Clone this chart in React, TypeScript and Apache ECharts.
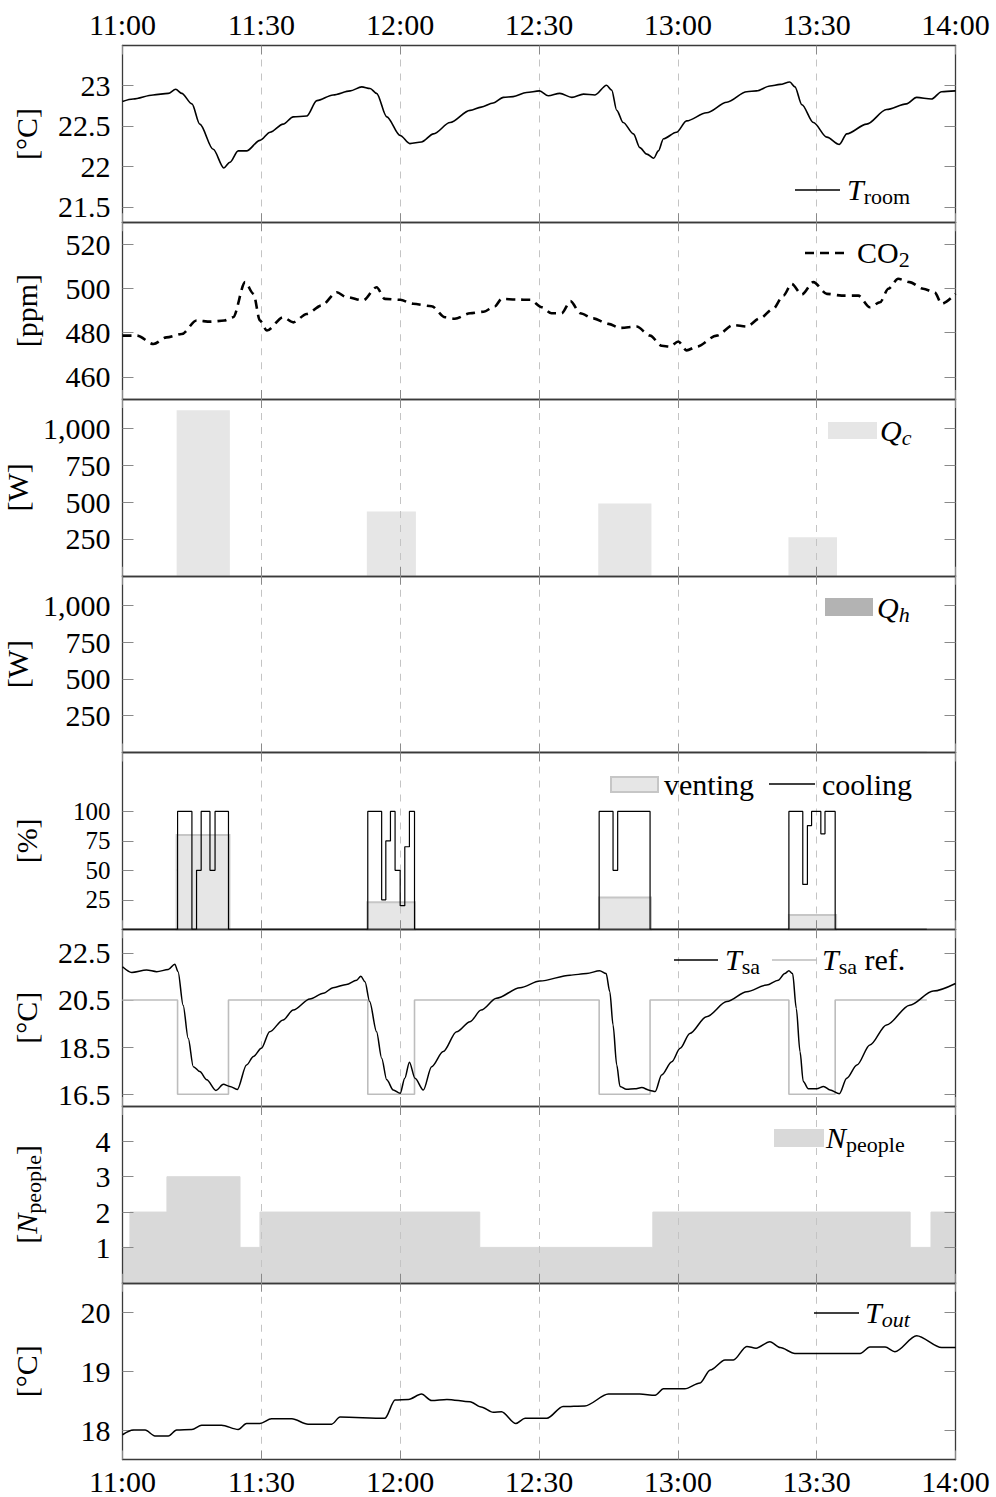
import React, { useEffect, useRef } from "react";
import * as echarts from "echarts";

// Time is measured in minutes after 11:00.
const timeTicks = [0, 30, 60, 90, 120, 150, 180];

// Room temperature [°C]
const tRoom: [number, number][] = [
  [0, 22.8], [2.3, 22.83], [6.6, 22.88], [9.9, 22.9], [11.5, 22.95], [12.8, 22.9], [15, 22.77],
  [16.7, 22.52], [19.6, 22.21], [21.9, 21.98], [23.2, 22.05], [25, 22.19], [26.8, 22.19],
  [29.7, 22.32], [31.9, 22.42], [34.7, 22.52], [36.9, 22.61], [39.8, 22.62], [42, 22.81],
  [45.5, 22.88], [49.2, 22.93], [51.7, 22.98], [53.5, 22.96], [54.9, 22.9], [57.1, 22.61],
  [60, 22.38], [62.1, 22.28], [64.6, 22.3], [67.2, 22.4], [70.8, 22.54], [75.1, 22.69],
  [77.5, 22.73], [80.1, 22.78], [82.3, 22.85], [84.4, 22.86], [87.3, 22.91], [90.1, 22.93],
  [92, 22.87], [94.5, 22.9], [97.1, 22.85], [99.6, 22.89], [102.1, 22.88], [104.6, 23.0],
  [105.7, 22.94], [106.8, 22.69], [108.2, 22.54], [110.4, 22.4], [111.8, 22.23], [113.3, 22.15],
  [114.8, 22.1], [115.8, 22.19], [116.9, 22.34], [119.7, 22.42], [121.9, 22.56], [126.2, 22.66],
  [130.6, 22.79], [134.9, 22.92], [137, 22.93], [139.9, 22.99], [142.1, 23.01], [144.2, 23.04],
  [145.3, 22.98], [146.8, 22.76], [149.3, 22.54], [152.2, 22.36], [154.9, 22.27], [156.5, 22.4],
  [160.8, 22.52], [165.1, 22.7], [169.4, 22.77], [171.6, 22.85], [174.8, 22.83], [177, 22.92],
  [180, 22.93],
];

// CO2 concentration [ppm]
const co2: [number, number][] = [
  [0, 478.7], [3.1, 478.7], [6.7, 474.9], [9.5, 477.9], [12.8, 479.4], [16, 485.5], [19, 485],
  [22, 485.5], [23.9, 487], [26.5, 502.9], [28.3, 497.6], [29.7, 485.5], [31.2, 481], [34.7, 487],
  [36.9, 484.7], [39.8, 488.5], [43, 492.3], [46.3, 498.3], [48.4, 496.1], [52, 494.6],
  [54.9, 500.6], [56.7, 495.3], [60, 494.9], [62.8, 493.1], [66.8, 492], [69.7, 487],
  [71.8, 486.3], [75.1, 488.8], [78, 489.5], [80.5, 492], [81.9, 495.3], [85.2, 495],
  [88.1, 494.9], [90.6, 491.5], [92.7, 488.8], [94.9, 488.8], [96.8, 494.3], [98.9, 488.8],
  [101.7, 486.5], [105, 484], [107.5, 482.2], [111.1, 482.8], [114, 478.7], [116.5, 474.1],
  [118.3, 473.7], [120.1, 476], [121.9, 472], [124.1, 473.7], [128.4, 478.7], [132, 483.5],
  [134.9, 482.8], [137.7, 486.5], [140.6, 490.8], [142.8, 496.8], [144.6, 502.1], [146.8, 497.3],
  [149.3, 502.9], [152.2, 497.6], [155.4, 496.8], [159, 496.8], [161.5, 491.5], [163.7, 493.8],
  [165.5, 499.9], [167.6, 504.4], [170.1, 502.9], [173, 499.9], [175.5, 498.3], [177, 493.1],
  [180, 497.6],
];

// Cooling power blocks: [start, end, W]
const qCooling: [number, number, number][] = [
  [11.7, 23.2, 1124],
  [52.8, 63.4, 436],
  [102.8, 114.3, 490],
  [143.9, 154.4, 261],
];

// Heating power [W] (stays at zero)
const qHeating: [number, number][] = [[0, 0], [173.8, 0]];

// Venting share blocks: [start, end, %]
const venting: [number, number, number][] = [
  [11.7, 23.1, 80],
  [52.9, 63.2, 23],
  [103, 114.2, 27],
  [144, 154.2, 12],
];

// Cooling share [%], held until the next point
const cooling: [number, number][] = [
  [0, 0], [11.9, 100], [15, 0], [16, 50], [17, 100], [18.9, 50], [20, 100], [22.9, 0],
  [53, 100], [56, 25], [56.9, 75], [57.9, 100], [58.9, 50], [60, 20], [61, 70], [62, 100], [63.1, 0],
  [103, 100], [106, 50], [107, 100], [114, 0],
  [144, 100], [147, 38], [148, 88], [148.9, 100], [150.9, 81], [151.8, 100], [154, 0], [173.8, 0],
];

// Supply air temperature [°C]
const tSupply: [number, number][] = [
  [0, 21.91], [2, 21.67], [5.2, 21.77], [7.4, 21.7], [9.9, 21.79], [11.3, 22.02], [12, 21.7],
  [13.1, 20.28], [14.2, 18.87], [15.3, 17.67], [16.7, 17.46], [18.2, 17.11], [20.2, 16.66],
  [21.8, 16.92], [23.2, 16.83], [24.8, 16.7], [26.8, 17.74], [28.3, 18.1], [30, 18.45],
  [31.8, 19.15], [34.7, 19.65], [36.9, 20.07], [40.5, 20.54], [43.4, 20.78], [45.5, 21.02],
  [48.4, 21.16], [50.6, 21.34], [51.5, 21.51], [52.4, 21.27], [53.4, 20.43], [54.9, 19.15],
  [56, 18.03], [57.1, 17.11], [58.5, 16.68], [60, 16.54], [61, 17.18], [62, 17.86], [63.2, 17.18],
  [65, 16.68], [66.8, 17.67], [69.3, 18.31], [72.2, 19.15], [75.1, 19.58], [77.5, 20.07],
  [80.8, 20.57], [85.9, 21.02], [90.2, 21.3], [96.7, 21.55], [100.3, 21.62], [103.1, 21.74],
  [104.5, 21.62], [105.3, 20.85], [106, 19.44], [106.8, 17.74], [107.5, 16.83], [108.9, 16.71],
  [110.7, 16.73], [112.2, 16.78], [114, 16.66], [115.1, 16.61], [116.5, 17.32], [118.7, 17.88],
  [120.5, 18.45], [122.6, 19.08], [126.2, 19.79], [130.6, 20.43], [134.9, 20.85], [139.2, 21.13],
  [141.7, 21.34], [143.1, 21.62], [144, 21.74], [144.8, 21.62], [145.6, 20.14], [146.4, 18.31],
  [147.1, 17.04], [148.2, 16.73], [150, 16.73], [151.5, 16.83], [152.9, 16.68], [154.9, 16.52],
  [156.5, 17.18], [158.7, 17.74], [161.5, 18.59], [165.1, 19.44], [170.1, 20.28], [175.2, 20.88],
  [180, 21.2],
];

// Supply air setpoint [°C], held until the next point
const tSupplyRef: [number, number][] = [
  [0, 20.5], [11.9, 16.5], [22.9, 20.5], [53, 16.5], [63.1, 20.5],
  [103, 16.5], [114, 20.5], [144, 16.5], [154, 20.5], [173.8, 20.5],
];

// Occupancy, held until the next point
const people: [number, number][] = [
  [0, 1], [1.6, 2], [9.6, 3], [25.4, 1], [29.7, 2], [77.2, 1], [114.6, 2], [170.2, 1], [174.7, 2], [180, 2],
];

// Outdoor temperature [°C]
const tOut: [number, number][] = [
  [0, 17.92], [2.3, 18.0], [4.9, 18.0], [7, 17.9], [9.9, 17.9], [11.7, 18.0], [15, 18.01],
  [17.1, 18.08], [21.4, 18.08], [25, 18.01], [26.8, 18.11], [29.7, 18.11], [32.2, 18.19],
  [36.6, 18.19], [40.1, 18.1], [45.2, 18.1], [47, 18.22], [56.7, 18.2], [58.9, 18.51],
  [61.8, 18.52], [64.6, 18.61], [66.8, 18.5], [70.1, 18.52], [75.1, 18.48], [77.5, 18.39],
  [80.1, 18.3], [81.9, 18.31], [85, 18.11], [87, 18.2], [91.7, 18.2], [95.2, 18.4], [99.9, 18.41],
  [105, 18.61], [111.8, 18.61], [115.1, 18.59], [116.9, 18.7], [121.5, 18.7], [124.8, 18.8],
  [127, 19.02], [130.2, 19.19], [132, 19.19], [134.9, 19.42], [136.9, 19.39], [139.9, 19.5],
  [142.1, 19.4], [145.3, 19.3], [159.4, 19.3], [161.5, 19.41], [164.8, 19.41], [166.9, 19.33],
  [171.6, 19.6], [177, 19.4], [180, 19.4],
];

// Y tick values for each panel
const roomTicks = [21.5, 22, 22.5, 23];
const ppmTicks = [460, 480, 500, 520];
const powerTicks = [250, 500, 750, 1000];
const percentTicks = [25, 50, 75, 100];
const supplyTicks = [16.5, 18.5, 20.5, 22.5];
const peopleTicks = [1, 2, 3, 4];
const outTicks = [18, 19, 20];

const FONT = '"Liberation Serif", "Times New Roman", serif';
const FS = 30;

const rich: any = {
  it: { fontFamily: FONT, fontSize: FS, fontStyle: "italic", lineHeight: 36 },
  rm: { fontFamily: FONT, fontSize: FS, lineHeight: 36 },
  sub: { fontFamily: FONT, fontSize: 22, lineHeight: 22, verticalAlign: "bottom" },
  subit: { fontFamily: FONT, fontSize: 22, fontStyle: "italic", lineHeight: 22, verticalAlign: "bottom" },
};

// The % panel has tightly packed ticks: its labels use a smaller font and are
// split over two coincident left axes so that none of them gets dropped.
const panels = [
  { name: "{rm|[°C]}", min: 21.31, max: 23.49, ticks: roomTicks, labels: roomTicks },
  { name: "{rm|[ppm]}", min: 450, max: 530, ticks: ppmTicks, labels: ppmTicks },
  { name: "{rm|[W]}", min: 0, max: 1200, ticks: powerTicks, labels: powerTicks },
  { name: "{rm|[W]}", min: 0, max: 1200, ticks: powerTicks, labels: powerTicks },
  {
    name: "{rm|[%]}",
    min: 0,
    max: 150,
    ticks: percentTicks,
    labels: percentTicks.filter((_, k) => k % 2 === 0),
    extraLabels: percentTicks.filter((_, k) => k % 2 === 1),
    labelSize: 25,
  },
  { name: "{rm|[°C]}", min: 16, max: 23.5, ticks: supplyTicks, labels: supplyTicks },
  { name: "{rm|[}{it|N}{sub|people}{rm|]}", min: 0, max: 5, ticks: peopleTicks, labels: peopleTicks },
  { name: "{rm|[°C]}", min: 17.5, max: 20.5, ticks: outTicks, labels: outTicks },
] as {
  name: string;
  min: number;
  max: number;
  ticks: number[];
  labels: number[];
  extraLabels?: number[];
  labelSize?: number;
}[];

const LEFT = 122.5;
const RIGHT = 40.5;
const TOP = 45.5;
const PANEL_H = 176.75;
const FRAME = { color: "#3a3a3a", width: 1.3 };
const TICK = { color: "#8a8a8a", width: 1 };

const clock = (m: number) => {
  const h = 11 + Math.floor(m / 60);
  const mm = Math.round(m % 60);
  return `${h}:${mm < 10 ? "0" : ""}${mm}`;
};

const yFormat = (v: number) => (v >= 1000 ? v.toLocaleString("en-US") : String(v));

const yLabelStyle = (values: number[], size = FS) => ({
  show: true,
  customValues: values,
  formatter: yFormat,
  fontFamily: FONT,
  fontSize: size,
  lineHeight: Math.min(26, size),
  color: "#000",
  margin: 12,
  hideOverlap: false,
  showMinLabel: true,
  showMaxLabel: true,
});

const blockRender = (fill: string, stroke?: string) => (params: any, api: any) => {
  const p0 = api.coord([api.value(0), api.value(2)]);
  const p1 = api.coord([api.value(1), 0]);
  return {
    type: "rect",
    shape: { x: p0[0], y: p0[1], width: p1[0] - p0[0], height: p1[1] - p0[1] },
    style: stroke ? { fill, stroke, lineWidth: 2 } : { fill },
  };
};

const lineSeries = (name: string, idx: number, data: [number, number][], extra: any = {}) => ({
  type: "line",
  name,
  xAxisIndex: idx * 2,
  yAxisIndex: idx * 2,
  data,
  symbol: "none",
  showSymbol: false,
  z: 3,
  ...extra,
});

// Legend pieces drawn as graphics
const legendText = (x: number, y: number, text: string) => ({
  type: "text",
  x,
  y,
  z: 10,
  style: { text, fill: "#000", font: `${FS}px ${FONT}`, align: "left", verticalAlign: "middle", rich },
});
const legendLine = (x1: number, x2: number, y: number, stroke: string, lineWidth = 1.5, lineDash?: number[]) => ({
  type: "line",
  z: 10,
  shape: { x1, y1: y, x2, y2: y },
  style: { stroke, lineWidth, lineDash },
});
const legendRect = (x: number, y: number, width: number, height: number, fill: string, stroke?: string) => ({
  type: "rect",
  z: 10,
  shape: { x, y, width, height },
  style: stroke ? { fill, stroke, lineWidth: 2 } : { fill },
});

function buildOption() {
  const grid: any[] = [];
  const xAxis: any[] = [];
  const yAxis: any[] = [];
  const extraY: any[] = [];

  panels.forEach((p, i) => {
    grid.push({
      left: LEFT,
      right: RIGHT,
      top: TOP + i * PANEL_H,
      height: PANEL_H,
      containLabel: false,
      outerBoundsMode: "none",
    });
    const xBase = {
      type: "value",
      gridIndex: i,
      min: 0,
      max: 180,
      interval: 30,
      z: 2,
      axisLine: { show: true, onZero: false, lineStyle: FRAME },
      axisTick: { show: true, inside: true, length: 9, lineStyle: TICK },
    };
    const xLabel = (show: boolean, margin: number) => ({
      show,
      formatter: clock,
      fontFamily: FONT,
      fontSize: FS,
      color: "#000",
      margin,
      showMinLabel: true,
      showMaxLabel: true,
      hideOverlap: false,
    });
    xAxis.push({
      ...xBase,
      position: "bottom",
      axisLabel: xLabel(i === panels.length - 1, 7),
      splitLine: {
        show: true,
        showMinLine: false,
        showMaxLine: false,
        lineStyle: { color: "#c4c4c4", width: 1, type: [7, 7] },
      },
    });
    xAxis.push({
      ...xBase,
      position: "top",
      axisLabel: xLabel(i === 0, 6),
      splitLine: { show: false },
    });
    const yBase = {
      type: "value",
      gridIndex: i,
      min: p.min,
      max: p.max,
      z: 2,
      axisLine: { show: true, onZero: false, lineStyle: FRAME },
      axisTick: { show: true, inside: true, length: 11, lineStyle: TICK, customValues: p.ticks },
      splitLine: { show: false },
    };
    yAxis.push({
      ...yBase,
      position: "left",
      axisLabel: yLabelStyle(p.labels, p.labelSize),
      name: p.name,
      nameLocation: "middle",
      nameGap: 78,
      nameTextStyle: { fontFamily: FONT, fontSize: FS, color: "#000", rich },
    });
    yAxis.push({
      ...yBase,
      position: "right",
      axisLabel: { show: false },
    });
    if (p.extraLabels) {
      extraY.push({
        type: "value",
        gridIndex: i,
        min: p.min,
        max: p.max,
        position: "left",
        offset: 0,
        z: 2,
        axisLine: { show: false, onZero: false },
        axisTick: { show: false },
        splitLine: { show: false },
        axisLabel: yLabelStyle(p.extraLabels, p.labelSize),
      });
    }
  });
  yAxis.push(...extraY);

  const series: any[] = [
    lineSeries("T_room", 0, tRoom, { smooth: 0.3, smoothMonotone: "x", lineStyle: { color: "#000", width: 1.6 } }),
    lineSeries("CO2", 1, co2, {
      smooth: 0.3,
      smoothMonotone: "x",
      lineStyle: { color: "#000", width: 2.6, type: [9, 6] },
    }),
    {
      type: "custom",
      name: "Q_c",
      xAxisIndex: 4,
      yAxisIndex: 4,
      z: 1,
      encode: { x: [0, 1], y: 2 },
      renderItem: blockRender("#e6e6e6"),
      data: qCooling,
    },
    lineSeries("Q_h", 3, qHeating, {
      z: 1,
      lineStyle: { color: "#b3b3b3", width: 1.5 },
      areaStyle: { color: "#b3b3b3", opacity: 1 },
    }),
    {
      type: "custom",
      name: "venting",
      xAxisIndex: 8,
      yAxisIndex: 8,
      z: 1,
      encode: { x: [0, 1], y: 2 },
      renderItem: blockRender("#e6e6e6", "#c6c6c6"),
      data: venting,
    },
    lineSeries("cooling", 4, cooling, { step: "end", lineStyle: { color: "#000", width: 1.2 } }),
    lineSeries("T_sa ref.", 5, tSupplyRef, { step: "end", lineStyle: { color: "#bdbdbd", width: 1.6 } }),
    lineSeries("T_sa", 5, tSupply, { smooth: 0.3, smoothMonotone: "x", lineStyle: { color: "#000", width: 1.5 } }),
    lineSeries("N_people", 6, people, {
      step: "end",
      z: 1,
      lineStyle: { color: "#d9d9d9", width: 1 },
      areaStyle: { color: "#d9d9d9", opacity: 1 },
    }),
    lineSeries("T_out", 7, tOut, { smooth: 0.3, smoothMonotone: "x", lineStyle: { color: "#000", width: 1.5 } }),
  ];

  const graphic: any[] = [
    legendLine(795, 840, 190, "#000"),
    legendText(847, 189, "{it|T}{sub|room}"),

    legendLine(805, 845, 253, "#000", 2.6, [9, 6]),
    legendText(857, 252, "{rm|CO}{sub|2}"),

    legendRect(828, 422, 49, 17, "#e6e6e6"),
    legendText(880, 430, "{it|Q}{subit|c}"),

    legendRect(825, 598, 48, 18, "#b3b3b3"),
    legendText(877, 607, "{it|Q}{subit|h}"),

    legendRect(611, 777, 47, 15, "#e6e6e6", "#c6c6c6"),
    legendText(664, 784, "{rm|venting}"),
    legendLine(769, 815, 784, "#000"),
    legendText(822, 784, "{rm|cooling}"),

    legendLine(674, 718, 960, "#000"),
    legendText(725, 959, "{it|T}{sub|sa}"),
    legendLine(772, 817, 960, "#bdbdbd", 1.6),
    legendText(822, 959, "{it|T}{sub|sa}{rm| ref.}"),

    legendRect(774, 1129, 50, 18, "#d9d9d9"),
    legendText(826, 1137, "{it|N}{sub|people}"),

    legendLine(814, 859, 1313, "#000"),
    legendText(865, 1312, "{it|T}{subit|out}"),
  ];

  return {
    animation: false,
    backgroundColor: "#fff",
    grid,
    xAxis,
    yAxis,
    series,
    graphic,
  };
}

export default function App() {
  const ref = useRef<HTMLDivElement>(null);
  useEffect(() => {
    if (!ref.current) return;
    const chart = echarts.init(ref.current, undefined, { renderer: "svg" });
    chart.setOption(buildOption() as any);
    return () => chart.dispose();
  }, []);
  return (
    <div
      ref={ref}
      style={{ position: "absolute", left: 0, top: 0, width: 996, height: 1497, background: "#fff" }}
    />
  );
}
